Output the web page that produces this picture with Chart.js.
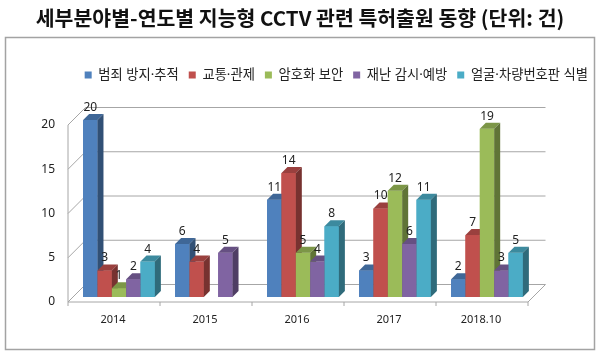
<!DOCTYPE html>
<html><head><meta charset="utf-8">
<script src="https://cdn.jsdelivr.net/npm/chart.js@4.4.0/dist/chart.umd.min.js"></script>
<style>html,body{margin:0;padding:0;background:#fff}#wrap{width:600px;height:357px}</style>
</head><body><div id="wrap"><canvas id="c" width="600" height="357"></canvas></div>
<script>
const categories = ['2014','2015','2016','2017','2018.10'];
const seriesNames = ['범죄 방지·추적','교통·관제','암호화 보안','재난 감시·예방','얼굴·차량번호판 식별'];
const crime    = [20, 6, 11, 3, 2];
const traffic  = [3, 4, 14, 10, 7];
const crypto   = [1, null, 5, 12, 19];
const disaster = [2, 5, 4, 6, 3];
const face     = [4, null, 8, 11, 5];
const yTicks = [0, 5, 10, 15, 20];
const titleText = '세부분야별-연도별 지능형 CCTV 관련 특허출원 동향 (단위: 건)';
const colors = ['#4F81BD','#C0504D','#9BBB59','#8064A2','#4BACC6'];

const D_BACK = 12.5, D_FRONT = -5, BD = 6;
function rgb(h){const n=parseInt(h.slice(1),16);return [(n>>16)&255,(n>>8)&255,n&255];}
function shade(h,f){const [r,g,b]=rgb(h);return 'rgb('+Math.round(r*f)+','+Math.round(g*f)+','+Math.round(b*f)+')';}

const frame3d = {
  id:'frame3d',
  beforeDraw(chart){
    const ctx=chart.ctx; ctx.save();
    ctx.strokeStyle='#a3a3a3'; ctx.lineWidth=1.5;
    ctx.strokeRect(5.5,37.5,589,312);
    ctx.restore();
  },
  beforeDatasetsDraw(chart){
    const {ctx, chartArea:a, scales:{x,y}} = chart;
    const line=(x1,y1,x2,y2)=>{ctx.beginPath();ctx.moveTo(x1,y1);ctx.lineTo(x2,y2);ctx.stroke();};
    ctx.save(); ctx.strokeStyle='#a6a6a6'; ctx.lineWidth=1;
    y.ticks.forEach(t=>{
      const yb=y.getPixelForValue(t.value);
      line(a.left+D_FRONT, yb-D_FRONT, a.left+D_BACK, yb-D_BACK);
      line(a.left+D_BACK, yb-D_BACK, a.right+D_BACK, yb-D_BACK);
    });
    const y0=y.getPixelForValue(0), yT=y.getPixelForValue(yTicks[yTicks.length-1]);
    line(a.left+D_FRONT, y0-D_FRONT, a.left+D_FRONT, yT-D_FRONT);
    line(a.left+D_FRONT, y0-D_FRONT, a.right+D_FRONT, y0-D_FRONT);
    line(a.right+D_FRONT, y0-D_FRONT, a.right+D_BACK, y0-D_BACK);
    const n=categories.length, cw=(a.right-a.left)/n;
    for(let k=0;k<=n;k++){
      const xx=a.left+D_FRONT+k*cw;
      line(xx, y0-D_FRONT, xx, y0-D_FRONT+4);
    }
    ctx.restore();
  },
  afterDatasetsDraw(chart){
    const ctx=chart.ctx; ctx.save();
    const n=categories.length, m=chart.data.datasets.length;
    const labels=[];
    for(let j=0;j<n;j++){
      for(let i=0;i<m;i++){
        const v=chart.data.datasets[i].data[j];
        if(v===null||v===undefined) continue;
        const el=chart.getDatasetMeta(i).data[j];
        const p=el.getProps(['x','y','base','width'],true);
        if(!isFinite(p.y)) continue;
        const c=colors[i];
        const l=p.x-p.width/2, r=p.x+p.width/2, t=p.y, b=p.base;
        ctx.fillStyle=c; ctx.fillRect(l,t,r-l,b-t);
        ctx.beginPath(); ctx.moveTo(l,t); ctx.lineTo(l+BD,t-BD); ctx.lineTo(r+BD,t-BD); ctx.lineTo(r,t); ctx.closePath();
        ctx.fillStyle=shade(c,0.8); ctx.fill();
        ctx.beginPath(); ctx.moveTo(r,t); ctx.lineTo(r+BD,t-BD); ctx.lineTo(r+BD,b-BD); ctx.lineTo(r,b); ctx.closePath();
        ctx.fillStyle=shade(c,0.62); ctx.fill();
        labels.push([String(v),p.x,t-12.5]);
      }
    }
    ctx.fillStyle='#222'; ctx.font='12px "Noto Sans"'; ctx.textAlign='center'; ctx.textBaseline='middle';
    labels.forEach(([s,xx,yy])=>ctx.fillText(s,xx,yy));
    ctx.restore();
  }
};

const dataSeries=[crime,traffic,crypto,disaster,face];
new Chart(document.getElementById('c'),{
  type:'bar',
  data:{labels:categories,datasets:dataSeries.map((d,i)=>({label:seriesNames[i],data:d,backgroundColor:colors[i],borderWidth:0,xAxisID:'x',yAxisID:'y',categoryPercentage:0.78,barPercentage:1}))},
  options:{
    responsive:false,animation:false,devicePixelRatio:1,
    layout:{padding:{left:2,right:2,top:0,bottom:0}},
    plugins:{
      title:{display:true,text:titleText,font:{family:'"Noto Sans CJK KR"',size:20.5,weight:'bold'},color:'#111',padding:{top:6,bottom:27.75}},
      legend:{position:'top',align:'end',labels:{boxWidth:7,boxHeight:7,padding:10,font:{family:'"Noto Sans", "Noto Sans CJK KR"',size:13.3},color:'#222'}},
      tooltip:{enabled:false}
    },
    scales:{
      x:{grid:{display:false,drawTicks:false},border:{display:false},ticks:{padding:16,labelOffset:-6,font:{family:'"Noto Sans"',size:11},color:'#222'},afterFit(s){s.height=60;}},
      y:{min:0,max:20,grid:{display:false,drawTicks:false},border:{display:false},
         afterBuildTicks(s){s.ticks=yTicks.map(v=>({value:v}));},
         ticks:{padding:18,labelOffset:5,font:{family:'"Noto Sans"',size:12},color:'#222'},afterFit(s){s.width=71;}},
      yR:{position:'right',display:true,grid:{display:false,drawTicks:false},border:{display:false},ticks:{display:false},afterFit(s){s.width=65;}},
      xT:{type:'category',position:'top',display:true,grid:{display:false,drawTicks:false},border:{display:false},ticks:{display:false},afterFit(s){s.height=28.35;}}
    }
  },
  plugins:[frame3d]
});
</script></body></html>
